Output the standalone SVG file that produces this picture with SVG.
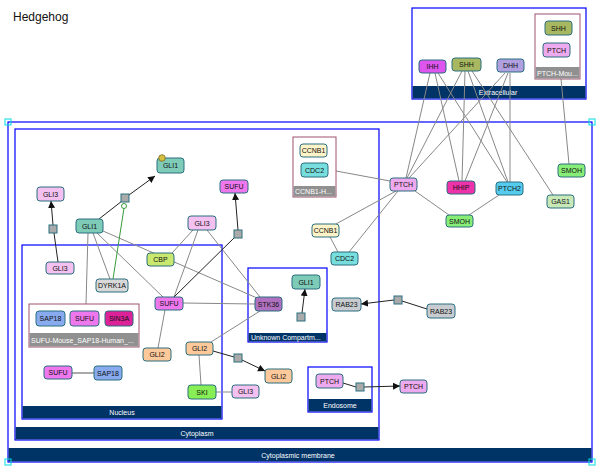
<svg xmlns="http://www.w3.org/2000/svg" width="599" height="469" viewBox="0 0 599 469">
<style>
text{font-family:"Liberation Sans",Arial,sans-serif}
.comp{fill:#fff;stroke:#0000ff;stroke-width:1.2}
.bar{fill:#003366}
.clab{fill:#fff;font-size:7px;text-anchor:middle}
.grp{fill:#fff;stroke:#a0506e;stroke-width:1}
.gbar{fill:#909090}
.glab{fill:#fff;font-size:7px}
.n rect{stroke:#2a6f80;stroke-width:1}
.n text{font-size:7px;text-anchor:middle;fill:#111}
.e line{stroke:#888;stroke-width:1}
.r line{stroke:#222;stroke-width:1}
.sq{fill:#aaa;stroke:#2a6f80;stroke-width:1}
.h{fill:none;stroke:#00dede;stroke-width:1}
</style>
<defs>
<marker id="arr" markerUnits="userSpaceOnUse" markerWidth="8" markerHeight="8" refX="7" refY="3.5" orient="auto">
<path d="M0,0 L7,3.5 L0,7 z" fill="#111"/>
</marker>
</defs>
<rect width="599" height="469" fill="#fff"/>
<text x="13" y="21" font-size="12" fill="#111">Hedgehog</text>

<g id="compartments">
<g id="membrane"><rect class="comp" x="8" y="122" width="584" height="340"/><rect class="bar" x="8.6" y="448" width="582.8" height="13.4"/><text class="clab" x="298" y="458">Cytoplasmic membrane</text></g>
<g id="cytoplasm"><rect class="comp" x="15" y="129" width="364" height="311"/><rect class="bar" x="15.6" y="427" width="362.8" height="12.4"/><text class="clab" x="197" y="436">Cytoplasm</text></g>
<g id="extracellular"><rect class="comp" x="412" y="8" width="174" height="91"/><rect class="bar" x="412.6" y="86" width="172.8" height="12.4"/><text class="clab" x="498" y="95">Extracellular</text></g>
<g id="nucleus"><rect class="comp" x="22" y="245" width="200" height="174"/><rect class="bar" x="22.6" y="406" width="198.8" height="12.4"/><text class="clab" x="122" y="415">Nucleus</text></g>
<g id="unknown"><rect class="comp" x="248" y="268" width="79" height="74"/><rect class="bar" x="248.6" y="333" width="77.8" height="8.4"/><text class="clab" x="251" y="340" style="text-anchor:start">Unknown Compartm...</text></g>
<g id="endosome"><rect class="comp" x="308" y="367" width="64" height="45"/><rect class="bar" x="308.6" y="399" width="62.8" height="12.4"/><text class="clab" x="340" y="408">Endosome</text></g>
<rect class="h" x="5" y="119" width="6" height="6"/>
<rect class="h" x="589" y="119" width="6" height="6"/>
<rect class="h" x="5" y="459" width="6" height="6"/>
<rect class="h" x="589" y="459" width="6" height="6"/>
</g>

<g id="connectors">
<g class="e">
<line x1="430" y1="73" x2="406" y2="178"/>
<line x1="435" y1="73" x2="459" y2="181"/>
<line x1="438" y1="73" x2="507" y2="182"/>
<line x1="462" y1="71" x2="407" y2="178"/>
<line x1="465" y1="71" x2="462" y2="181"/>
<line x1="468" y1="71" x2="508" y2="182"/>
<line x1="472" y1="71" x2="553" y2="195"/>
<line x1="505" y1="73" x2="409" y2="178"/>
<line x1="508" y1="73" x2="465" y2="181"/>
<line x1="510" y1="73" x2="510" y2="182"/>
<line x1="561" y1="79" x2="569" y2="164"/>
<line x1="336" y1="171" x2="390" y2="181"/>
<line x1="396" y1="191" x2="336" y2="224"/>
<line x1="398" y1="191" x2="349" y2="252"/>
<line x1="330" y1="237" x2="338" y2="252"/>
<line x1="415" y1="191" x2="449" y2="215"/>
<line x1="499" y1="195" x2="469" y2="215"/>
<line x1="93" y1="233" x2="110" y2="279"/>
<line x1="88" y1="233" x2="86" y2="304"/>
<line x1="97" y1="233" x2="163" y2="297"/>
<line x1="103" y1="231" x2="257" y2="298"/>
<line x1="193" y1="230" x2="172" y2="253"/>
<line x1="198" y1="230" x2="174" y2="297"/>
<line x1="207" y1="230" x2="260" y2="297"/>
<line x1="183" y1="303" x2="255" y2="304"/>
<line x1="165" y1="310" x2="158" y2="348"/>
<line x1="260" y1="311" x2="211" y2="342"/>
<line x1="199" y1="355" x2="201" y2="385"/>
<line x1="216" y1="392" x2="232" y2="392"/>
<line x1="72" y1="373" x2="94" y2="373" style="stroke:#555"/>
</g>
<g class="r">
<line x1="99" y1="219" x2="122" y2="201"/>
<line x1="129" y1="195" x2="155" y2="176" marker-end="url(#arr)"/>
<line x1="58" y1="262" x2="54" y2="233"/>
<line x1="53" y1="225" x2="51" y2="201" marker-end="url(#arr)"/>
<line x1="174" y1="297" x2="235" y2="237"/>
<line x1="238" y1="230" x2="235" y2="193" marker-end="url(#arr)"/>
<line x1="213" y1="351" x2="234" y2="357"/>
<line x1="242" y1="360" x2="265" y2="371" marker-end="url(#arr)"/>
<line x1="302" y1="313" x2="305" y2="289" marker-end="url(#arr)"/>
<line x1="427" y1="309" x2="402" y2="301"/>
<line x1="394" y1="300" x2="361" y2="304" marker-end="url(#arr)"/>
<line x1="343" y1="383" x2="356" y2="387"/>
<line x1="364" y1="387" x2="400" y2="386" marker-end="url(#arr)"/>
</g>
<line x1="113" y1="279" x2="124" y2="208" stroke="#3a9a3a" stroke-width="1"/>
<circle cx="124" cy="206" r="2.5" fill="#fff" stroke="#3a9a3a" stroke-width="1"/>
<rect class="sq" x="121" y="194" width="8" height="8"/>
<rect class="sq" x="49" y="225" width="8" height="8"/>
<rect class="sq" x="234" y="230" width="8" height="8"/>
<rect class="sq" x="234" y="354" width="8" height="8"/>
<rect class="sq" x="297" y="313" width="8" height="8"/>
<rect class="sq" x="394" y="296" width="8" height="8"/>
<rect class="sq" x="356" y="383" width="8" height="8"/>
</g>

<g id="groups">
<g id="grp_ptch_mouse"><rect class="grp" x="535" y="14" width="45" height="65"/><rect class="gbar" x="535.5" y="67" width="44" height="11.5"/><text class="glab" x="537" y="76">PTCH-Mou...</text></g>
<g id="grp_ccnb1"><rect class="grp" x="293" y="137" width="43" height="60"/><rect class="gbar" x="293.5" y="186" width="42" height="10.5"/><text class="glab" x="295" y="194">CCNB1-H...</text></g>
<g id="grp_sufu"><rect class="grp" x="29" y="304" width="110" height="43"/><rect class="gbar" x="29.5" y="333" width="109" height="13.5"/><text class="glab" x="31" y="343">SUFU-Mouse_SAP18-Human_...</text></g>
</g>

<g id="n_ihh" class="n"><rect x="419" y="60" width="27" height="13" rx="3" fill="#dd55ee"/><text x="432.5" y="69">IHH</text></g>
<g id="n_shh" class="n"><rect x="452" y="58" width="29" height="13" rx="3" fill="#a8b860"/><text x="466.5" y="67">SHH</text></g>
<g id="n_dhh" class="n"><rect x="497" y="59" width="27" height="13" rx="3" fill="#b0a0e0"/><text x="510.5" y="68">DHH</text></g>
<g id="n_shh2" class="n"><rect x="545" y="21" width="27" height="14" rx="3" fill="#a8b860"/><text x="558.5" y="30.5">SHH</text></g>
<g id="n_ptch_g" class="n"><rect x="543" y="43" width="27" height="14" rx="3" fill="#eeaaee"/><text x="556.5" y="52.5">PTCH</text></g>
<g id="n_ptch" class="n"><rect x="390" y="178" width="27" height="13" rx="3" fill="#eeaaee"/><text x="403.5" y="187">PTCH</text></g>
<g id="n_hhip" class="n"><rect x="447" y="181" width="28" height="13" rx="3" fill="#ee33aa"/><text x="461" y="190">HHIP</text></g>
<g id="n_ptch2" class="n"><rect x="496" y="182" width="27" height="13" rx="3" fill="#55ccee"/><text x="509.5" y="191">PTCH2</text></g>
<g id="n_smoh1" class="n"><rect x="558" y="164" width="27" height="13" rx="3" fill="#88ee77"/><text x="571.5" y="173">SMOH</text></g>
<g id="n_gas1" class="n"><rect x="547" y="195" width="27" height="13" rx="3" fill="#c8e8b8"/><text x="560.5" y="204">GAS1</text></g>
<g id="n_smoh2" class="n"><rect x="446" y="215" width="27" height="12" rx="3" fill="#88ee77"/><text x="459.5" y="223.5">SMOH</text></g>
<g id="n_ccnb1_g" class="n"><rect x="300" y="144" width="27" height="13" rx="3" fill="#fff3c8"/><text x="313.5" y="153">CCNB1</text></g>
<g id="n_cdc2_g" class="n"><rect x="301" y="163" width="27" height="14" rx="3" fill="#77dddd"/><text x="314.5" y="172.5">CDC2</text></g>
<g id="n_ccnb1" class="n"><rect x="312" y="224" width="27" height="13" rx="3" fill="#fff3c8"/><text x="325.5" y="233">CCNB1</text></g>
<g id="n_cdc2" class="n"><rect x="331" y="252" width="27" height="13" rx="3" fill="#77dddd"/><text x="344.5" y="261">CDC2</text></g>
<g id="n_rab23a" class="n"><rect x="332" y="298" width="29" height="13" rx="3" fill="#c8ccd0"/><text x="346.5" y="307">RAB23</text></g>
<g id="n_rab23b" class="n"><rect x="427" y="304" width="28" height="14" rx="3" fill="#c8ccd0"/><text x="441" y="313.5">RAB23</text></g>
<g id="n_gli1_u" class="n"><rect x="292" y="275" width="28" height="14" rx="3" fill="#7ecbb8"/><text x="306" y="284.5">GLI1</text></g>
<g id="n_stk36" class="n"><rect x="255" y="297" width="27" height="14" rx="3" fill="#b070c0"/><text x="268.5" y="306.5">STK36</text></g>
<g id="n_ptch_e" class="n"><rect x="316" y="374" width="27" height="14" rx="3" fill="#eeaaee"/><text x="329.5" y="383.5">PTCH</text></g>
<g id="n_ptch_r" class="n"><rect x="400" y="380" width="27" height="13" rx="3" fill="#eeaaee"/><text x="413.5" y="389">PTCH</text></g>
<g id="n_gli1_t" class="n"><rect x="157" y="158" width="27" height="15" rx="3" fill="#7ecbb8"/><text x="170.5" y="168">GLI1</text><circle cx="162" cy="158" r="3.3" fill="#d4c040" stroke="#7a6a20" stroke-width="0.8"/></g>
<g id="n_gli3_t" class="n"><rect x="37" y="187" width="27" height="14" rx="3" fill="#f4c0f0"/><text x="50.5" y="196.5">GLI3</text></g>
<g id="n_gli1_m" class="n"><rect x="76" y="219" width="27" height="14" rx="3" fill="#7ecbb8"/><text x="89.5" y="228.5">GLI1</text></g>
<g id="n_sufu_t" class="n"><rect x="220" y="180" width="28" height="13" rx="3" fill="#ee77ee"/><text x="234" y="189">SUFU</text></g>
<g id="n_gli3_r" class="n"><rect x="188" y="216" width="28" height="14" rx="3" fill="#f4c0f0"/><text x="202" y="225.5">GLI3</text></g>
<g id="n_cbp" class="n"><rect x="147" y="253" width="27" height="13" rx="3" fill="#c8e870"/><text x="160.5" y="262">CBP</text></g>
<g id="n_sufu_m" class="n"><rect x="155" y="297" width="28" height="13" rx="3" fill="#ee77ee"/><text x="169" y="306">SUFU</text></g>
<g id="n_gli2_c" class="n"><rect x="186" y="342" width="27" height="13" rx="3" fill="#fdc89a"/><text x="199.5" y="351">GLI2</text></g>
<g id="n_gli2_r" class="n"><rect x="265" y="369" width="27" height="14" rx="3" fill="#fdc89a"/><text x="278.5" y="378.5">GLI2</text></g>
<g id="n_ski" class="n"><rect x="188" y="385" width="28" height="14" rx="3" fill="#88ee55"/><text x="202" y="394.5">SKI</text></g>
<g id="n_gli3_s" class="n"><rect x="232" y="385" width="27" height="13" rx="3" fill="#f4c0f0"/><text x="245.5" y="394">GLI3</text></g>
<g id="n_gli3_n" class="n"><rect x="46" y="262" width="28" height="12" rx="3" fill="#f4c0f0"/><text x="60" y="270.5">GLI3</text></g>
<g id="n_dyrk1a" class="n"><rect x="96" y="279" width="32" height="13" rx="3" fill="#d8d8d8"/><text x="112" y="288">DYRK1A</text></g>
<g id="n_sap18_g" class="n"><rect x="36" y="311" width="29" height="15" rx="3" fill="#88aaee"/><text x="50.5" y="321">SAP18</text></g>
<g id="n_sufu_g" class="n"><rect x="70" y="311" width="29" height="15" rx="3" fill="#ee77ee"/><text x="84.5" y="321">SUFU</text></g>
<g id="n_sin3a" class="n"><rect x="105" y="311" width="28" height="15" rx="3" fill="#dd2299"/><text x="119" y="321">SIN3A</text></g>
<g id="n_gli2_n" class="n"><rect x="143" y="348" width="28" height="13" rx="3" fill="#fdc89a"/><text x="157" y="357">GLI2</text></g>
<g id="n_sufu_b" class="n"><rect x="44" y="366" width="28" height="13" rx="3" fill="#ee77ee"/><text x="58" y="375">SUFU</text></g>
<g id="n_sap18_b" class="n"><rect x="94" y="366" width="28" height="14" rx="3" fill="#88aaee"/><text x="108" y="375.5">SAP18</text></g>
</svg>
